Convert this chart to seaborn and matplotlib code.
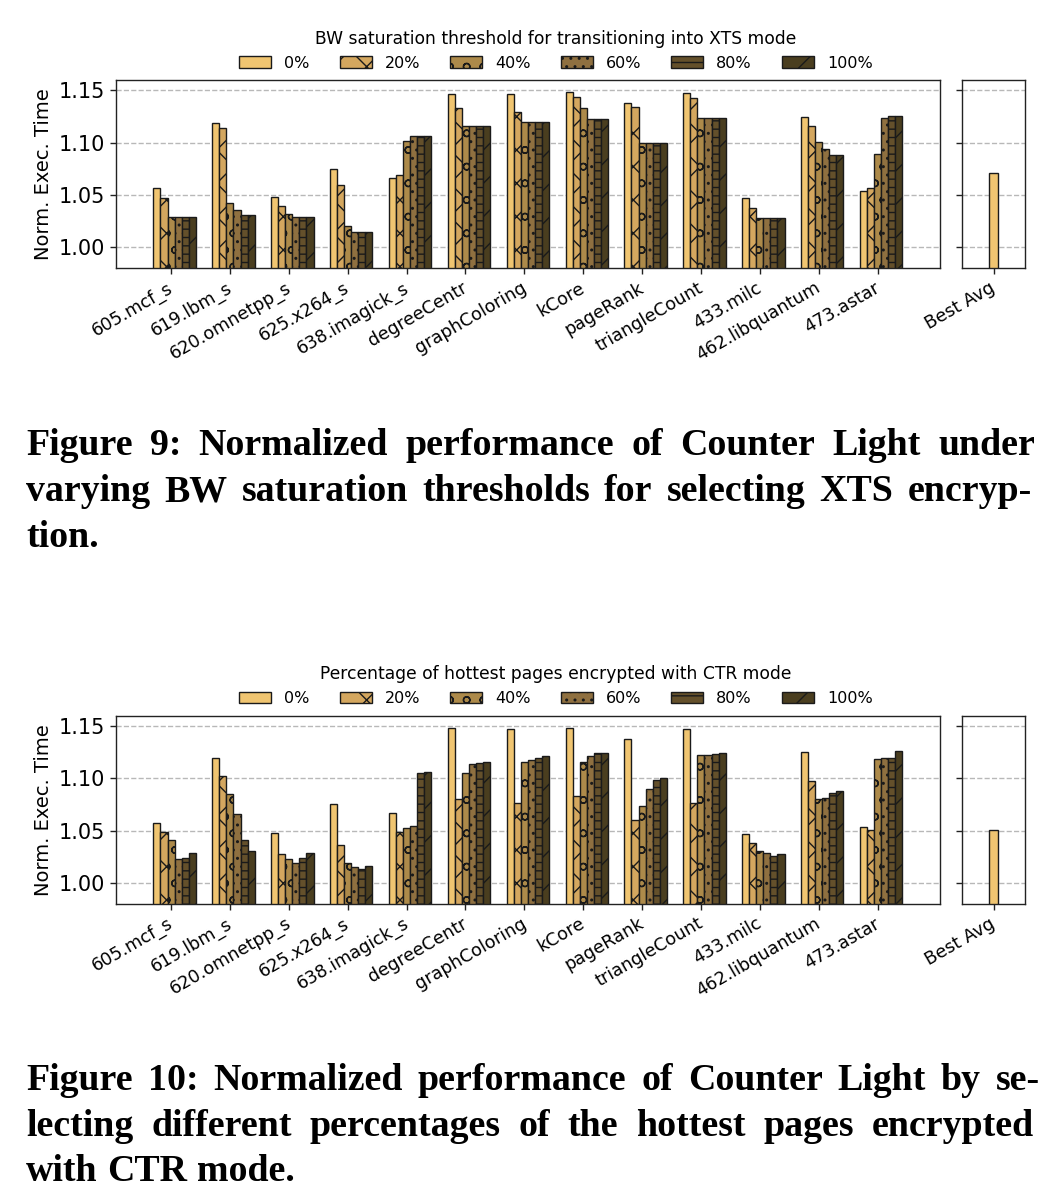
import numpy as np
import pandas as pd
import seaborn as sns
import matplotlib as ml
ml.use('Agg')
import matplotlib.pyplot as plt
from matplotlib.patches import Patch
from matplotlib.ticker import FixedLocator, FixedFormatter
from matplotlib.transforms import ScaledTranslation

benchmarks = ["605.mcf_s", "619.lbm_s", "620.omnetpp_s", "625.x264_s", "638.imagick_s",
              "degreeCentr", "graphColoring", "kCore", "pageRank", "triangleCount",
              "433.milc", "462.libquantum", "473.astar"]
levels = ["0%", "20%", "40%", "60%", "80%", "100%"]

# Figure 9: BW saturation threshold
xts_0 = [1.057, 1.119, 1.048, 1.075, 1.066, 1.147, 1.147, 1.149, 1.138, 1.148, 1.047, 1.125, 1.054]
xts_20 = [1.047, 1.114, 1.040, 1.060, 1.069, 1.133, 1.129, 1.144, 1.134, 1.143, 1.038, 1.116, 1.057]
xts_40 = [1.029, 1.042, 1.032, 1.020, 1.102, 1.116, 1.120, 1.133, 1.100, 1.124, 1.028, 1.101, 1.089]
xts_60 = [1.029, 1.036, 1.029, 1.015, 1.106, 1.116, 1.120, 1.123, 1.100, 1.124, 1.028, 1.094, 1.124]
xts_80 = [1.029, 1.031, 1.029, 1.015, 1.106, 1.116, 1.120, 1.123, 1.100, 1.124, 1.028, 1.088, 1.126]
xts_100 = [1.029, 1.031, 1.029, 1.015, 1.106, 1.116, 1.120, 1.123, 1.100, 1.124, 1.028, 1.088, 1.126]
xts_best = 1.071

# Figure 10: percentage of hottest pages in CTR mode
ctr_0 = [1.057, 1.120, 1.048, 1.076, 1.067, 1.148, 1.147, 1.148, 1.138, 1.147, 1.047, 1.125, 1.054]
ctr_20 = [1.049, 1.102, 1.028, 1.036, 1.049, 1.080, 1.077, 1.083, 1.060, 1.077, 1.038, 1.098, 1.051]
ctr_40 = [1.041, 1.085, 1.023, 1.019, 1.053, 1.105, 1.116, 1.116, 1.074, 1.122, 1.031, 1.080, 1.119]
ctr_60 = [1.023, 1.066, 1.019, 1.015, 1.055, 1.114, 1.118, 1.121, 1.090, 1.122, 1.029, 1.081, 1.120]
ctr_80 = [1.024, 1.041, 1.024, 1.013, 1.105, 1.115, 1.120, 1.124, 1.099, 1.123, 1.026, 1.086, 1.120]
ctr_100 = [1.029, 1.031, 1.029, 1.016, 1.106, 1.116, 1.121, 1.124, 1.100, 1.124, 1.028, 1.088, 1.126]
ctr_best = 1.051

colors = ["#f0c571", "#d4a75f", "#ad8a4a", "#8f7040", "#64502b", "#4a3e1f"]
hatches = ["", "x", "o", "..", "--", "/"]
edge = "#1a1a1a"

sns.set_theme(style="ticks")
plt.rcParams['hatch.linewidth'] = 1.0
plt.rcParams['font.family'] = ['DejaVu Sans']
for k in ['text.color', 'axes.labelcolor', 'xtick.color', 'ytick.color']:
    plt.rcParams[k] = 'black'

W, H = 1059, 1202
fig = plt.figure(figsize=(W / 100, H / 100), dpi=100)
nudge = ScaledTranslation(-0.04, 0, fig.dpi_scale_trans)


def long_form(series):
    rows = []
    for lvl, vals in zip(levels, series):
        for b, v in zip(benchmarks, vals):
            rows.append({"bench": b, "level": lvl, "val": v})
    return pd.DataFrame(rows)


def style_axis(ax):
    ax.set_ylim(0.98, 1.16)
    ax.set_yticks([1.00, 1.05, 1.10, 1.15])
    ax.yaxis.grid(True, linestyle='--', color='#b8b8b8', linewidth=1)
    ax.set_axisbelow(True)
    for s in ax.spines.values():
        s.set_color('#222222')
        s.set_linewidth(1.0)
    ax.tick_params(axis='both', length=4, width=1, color='#222222')
    ax.tick_params(axis='y', labelsize=15)
    ax.tick_params(axis='x', labelsize=12.7)


def tilt(ax):
    for lab in ax.get_xticklabels():
        lab.set_rotation(30)
        lab.set_ha('right')
        lab.set_rotation_mode('anchor')
        lab.set_transform(lab.get_transform() + nudge)


def panel(top_px, series, best, title):
    h = 188.3
    bottom = 1 - (top_px + h) / H
    ax = fig.add_axes([115.7 / W, bottom, 824.3 / W, h / H])
    ax2 = fig.add_axes([961.7 / W, bottom, 63.6 / W, h / H])

    df = long_form(series)
    sns.barplot(data=df, x="bench", y="val", hue="level", hue_order=levels,
                palette=colors, width=0.72, saturation=1, errorbar=None,
                edgecolor=edge, linewidth=1, ax=ax, legend=False)
    for cont, hat in zip(ax.containers, hatches):
        for bar in cont:
            bar.set_hatch(hat)
    ax.set_xlim(-1.0, 13.0)
    ax.xaxis.set_major_locator(FixedLocator(np.arange(len(benchmarks)) - 0.06))
    ax.xaxis.set_major_formatter(FixedFormatter(benchmarks))
    style_axis(ax)
    ax.yaxis.set_major_formatter(plt.FormatStrFormatter('%.2f'))
    tilt(ax)
    ax.set_xlabel("")
    ax.set_ylabel("Norm. Exec. Time", fontsize=14)

    sns.barplot(x=["Best Avg"], y=[best], color=colors[0], saturation=1,
                width=0.137, edgecolor=edge, linewidth=1, errorbar=None, ax=ax2)
    ax2.set_xlim(-0.5, 0.5)
    style_axis(ax2)
    ax2.set_yticklabels([])
    ax2.set_xlabel("")
    ax2.set_ylabel("")
    tilt(ax2)

    handles = [Patch(facecolor=c, edgecolor=edge, hatch=ht, linewidth=1)
               for c, ht in zip(colors, hatches)]
    fig.legend(handles, levels, title=title, ncol=6, loc='lower center',
               bbox_to_anchor=(0.525, 1 - (top_px - 3) / H), frameon=False,
               fontsize=11.5, title_fontsize=12.3, borderaxespad=0,
               columnspacing=1.9)


panel(80, [xts_0, xts_20, xts_40, xts_60, xts_80, xts_100], xts_best,
      "BW saturation threshold for transitioning into XTS mode")
panel(715.7, [ctr_0, ctr_20, ctr_40, ctr_60, ctr_80, ctr_100], ctr_best,
      "Percentage of hottest pages encrypted with CTR mode")

# captions, justified like in the paper
renderer = fig.canvas.get_renderer()
cap_font = 'Liberation Serif'


def word_widths(words, size):
    objs = [fig.text(0, 0, w, fontsize=size, fontweight='bold', family=cap_font)
            for w in words]
    widths = [o.get_window_extent(renderer).width for o in objs]
    for o in objs:
        o.remove()
    return widths


# size chosen so the first caption line nearly fills the column
probe = "Figure 9: Normalized performance of Counter Light under".split()
pw = word_widths(probe, 20)
natural = sum(pw) + 0.25 * 20 * 100 / 72 * (len(probe) - 1)
cap_size = 20 * 1005 / natural * 0.95


def caption_line(text, base_px, x0=25, x1=None):
    words = text.split()
    objs = [fig.text(0, 1 - base_px / H, w, fontsize=cap_size, fontweight='bold',
                     family=cap_font, va='baseline', ha='left', color='black')
            for w in words]
    widths = [o.get_window_extent(renderer).width for o in objs]
    if x1 is None or len(words) < 2:
        gap = 0.25 * cap_size * 100 / 72
    else:
        gap = (x1 - x0 - sum(widths)) / (len(words) - 1)
    x = x0
    for o, w in zip(objs, widths):
        o.set_x(x / W)
        x += w + gap


caption_line("Figure 9: Normalized performance of Counter Light under", 455, 26, 1035)
caption_line("varying BW saturation thresholds for selecting XTS encryp-", 501, 26, 1032)
caption_line("tion.", 547, 26)
caption_line("Figure 10: Normalized performance of Counter Light by se-", 1090, 26, 1040)
caption_line("lecting different percentages of the hottest pages encrypted", 1136, 26, 1034)
caption_line("with CTR mode.", 1181, 26)

fig.savefig("out.png", dpi=100)
